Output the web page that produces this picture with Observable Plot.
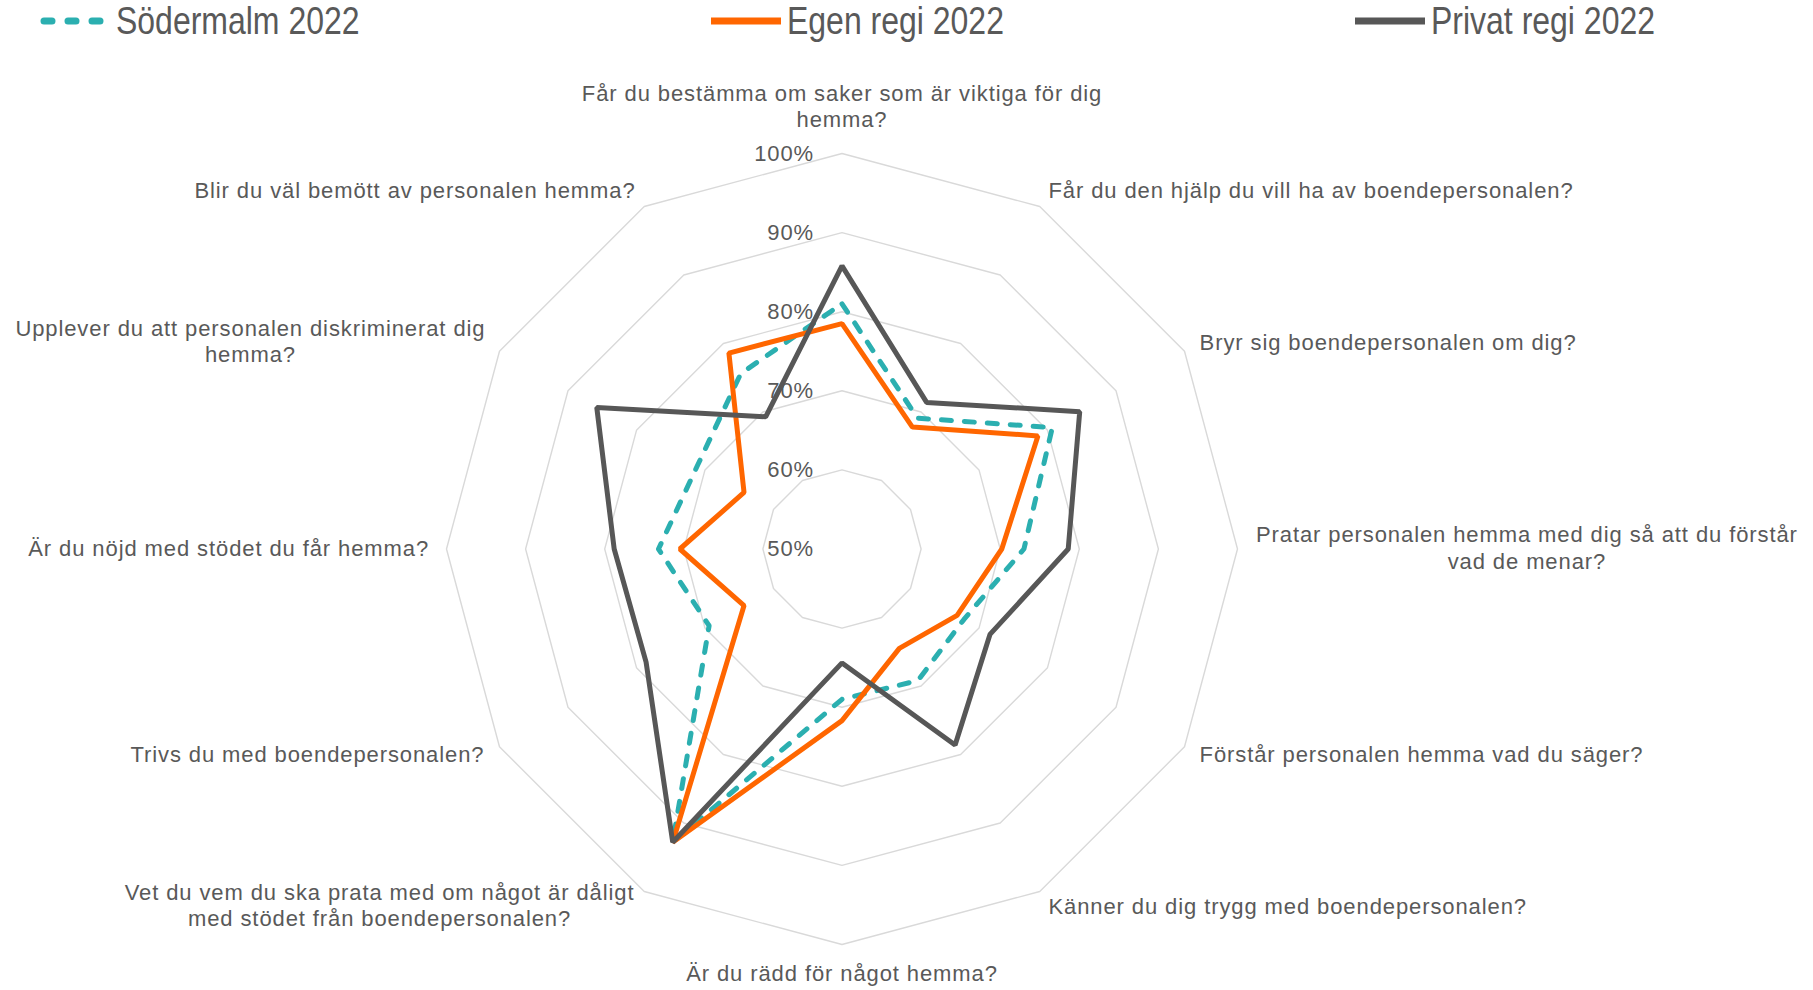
<!DOCTYPE html>
<html>
<head>
<meta charset="utf-8">
<script src="https://cdn.jsdelivr.net/npm/d3@7"></script>
<script src="https://cdn.jsdelivr.net/npm/@observablehq/plot@0.6"></script>
<style>
  body { margin: 0; background: #fff; font-family: "Liberation Sans", Arial, sans-serif; }
  #legend { position: relative; height: 42px; width: 1813px; }
  .item { position: absolute; top: 0; height: 42px; display: flex; align-items: center; }
  .item svg { display: block; }
  .item span { font-size: 39px; color: #595959; display: inline-block; transform: scaleX(0.82);
               transform-origin: left center; white-space: nowrap; margin-left: 6px; line-height: 42px; }
</style>
</head>
<body>
<div id="legend"></div>
<div id="chart"></div>
<script>
// ---- data ----
const categories = [
  "Får du bestämma om saker som är viktiga för dig\nhemma?",
  "Får du den hjälp du vill ha av boendepersonalen?",
  "Bryr sig boendepersonalen om dig?",
  "Pratar personalen hemma med dig så att du förstår\nvad de menar?",
  "Förstår personalen hemma vad du säger?",
  "Känner du dig trygg med boendepersonalen?",
  "Är du rädd för något hemma?",
  "Vet du vem du ska prata med om något är dåligt\nmed stödet från boendepersonalen?",
  "Trivs du med boendepersonalen?",
  "Är du nöjd med stödet du får hemma?",
  "Upplever du att personalen diskriminerat dig\nhemma?",
  "Blir du väl bemött av personalen hemma?"
];
const sodermalm2022 = [81.0, 69.1, 80.7, 73.0, 67.8, 69.2, 69.0, 92.8, 69.4, 73.2, 71.1, 75.6];
const egenRegi2022  = [78.5, 67.8, 78.6, 70.2, 66.8, 64.5, 71.7, 92.8, 64.3, 70.5, 64.3, 78.6];
const privatRegi2022 = [85.8, 71.4, 84.7, 78.6, 71.6, 78.6, 64.4, 92.8, 78.6, 78.8, 85.8, 69.3];
const seriesNames = ["Södermalm 2022", "Egen regi 2022", "Privat regi 2022"];
const tickValues = [50, 60, 70, 80, 90, 100];
const tickLabels = ["50%", "60%", "70%", "80%", "90%", "100%"];

// ---- styles / layout ----
const colors = ["#2BAFB0", "#FF6600", "#575757"];
const textColor = "#595959";
const W = 1813, H = 948, cx = 841.5, cy = 506.5, k = 7.91;
const base = 50, labelValue = 102.2;
const n = categories.length;
const ang = i => i * 2 * Math.PI / n;
const px = (v, i) => (v - base) * Math.sin(ang(i));
const py = (v, i) => (v - base) * Math.cos(ang(i));

// ---- legend ----
const legend = document.getElementById("legend");
const legendLeft = [40, 711, 1355];
seriesNames.forEach((name, s) => {
  const item = document.createElement("div");
  item.className = "item";
  item.style.left = legendLeft[s] + "px";
  const dashed = s === 0;
  item.innerHTML =
    `<svg width="70" height="42"><line x1="${dashed ? 4 : 0}" x2="${dashed ? 66 : 70}" y1="21" y2="21"
      stroke="${colors[s]}" stroke-width="7" stroke-linecap="${dashed ? "round" : "butt"}"
      ${dashed ? 'stroke-dasharray="8 16"' : ""}/></svg><span>${name}</span>`;
  legend.appendChild(item);
});

// ---- tables ----
const rings = [];
tickValues.slice(1).forEach(t => {
  for (let i = 0; i < n; i++) rings.push({ring: t, x: px(t, i), y: py(t, i)});
});
const seriesValues = [sodermalm2022, egenRegi2022, privatRegi2022];
const seriesRows = seriesValues.map(vals => vals.map((v, i) => ({i, v, x: px(v, i), y: py(v, i)})));
const labels = categories.map((c, i) => ({i, text: c, x: px(labelValue, i), y: py(labelValue, i),
  s: Math.sin(ang(i)), multi: c.includes("\n")}));

const txt = {fill: textColor, fontSize: 22, fontFamily: "Liberation Sans, Arial, sans-serif"};

const chart = Plot.plot({
  width: W, height: H, margin: 0,
  x: {domain: [-cx / k, (W - cx) / k], axis: null},
  y: {domain: [-(H - cy) / k, cy / k], axis: null},
  style: {background: "white", overflow: "visible", fontFamily: "Liberation Sans, Arial, sans-serif",
          letterSpacing: "0.9px"},
  marks: [
    Plot.line(rings, {x: "x", y: "y", z: "ring", curve: "linear-closed", stroke: "#D9D9D9", strokeWidth: 1.4}),
    Plot.text(tickValues, {x: () => 0, y: d => d - base, text: (d, j) => tickLabels[j],
      textAnchor: "end", lineAnchor: "middle", dx: -28, ...txt}),
    Plot.line(seriesRows[0], {x: "x", y: "y", curve: "linear-closed", stroke: colors[0], strokeWidth: 5,
      strokeDasharray: "10,13", strokeLinecap: "round", strokeLinejoin: "round"}),
    Plot.line(seriesRows[1], {x: "x", y: "y", curve: "linear-closed", stroke: colors[1], strokeWidth: 5,
      strokeLinejoin: "miter", strokeLinecap: "butt"}),
    Plot.line(seriesRows[2], {x: "x", y: "y", curve: "linear-closed", stroke: colors[2], strokeWidth: 5,
      strokeLinejoin: "miter", strokeLinecap: "butt"}),
    // single-line labels, right side
    Plot.text(labels.filter(d => !d.multi && d.s > 0.1), {x: "x", y: "y", text: "text",
      textAnchor: "start", lineAnchor: "middle", ...txt}),
    // single-line labels, left side
    Plot.text(labels.filter(d => !d.multi && d.s < -0.1), {x: "x", y: "y", text: "text",
      textAnchor: "end", lineAnchor: "middle", ...txt}),
    // bottom label
    Plot.text(labels.filter(d => !d.multi && Math.abs(d.s) <= 0.1), {x: "x", y: "y", text: "text",
      textAnchor: "middle", lineAnchor: "top", dy: 3, ...txt}),
    // top label
    Plot.text(labels.filter(d => d.multi && Math.abs(d.s) <= 0.1), {x: "x", y: "y", text: "text",
      textAnchor: "middle", lineAnchor: "bottom", lineHeight: 1.2, dy: -9, ...txt}),
    // two-line right label
    Plot.text(labels.filter(d => d.multi && d.i === 3), {x: "x", y: "y", text: "text",
      textAnchor: "middle", lineAnchor: "middle", lineHeight: 1.2, dx: 272, dy: -2, ...txt}),
    // two-line left labels
    Plot.text(labels.filter(d => d.multi && d.i === 10), {x: "x", y: "y", text: "text",
      textAnchor: "middle", lineAnchor: "middle", lineHeight: 1.2, dx: -234, dy: -2, ...txt}),
    Plot.text(labels.filter(d => d.multi && d.i === 7), {x: "x", y: "y", text: "text",
      textAnchor: "middle", lineAnchor: "middle", lineHeight: 1.2, dx: -256, dy: -2, ...txt})
  ]
});
document.getElementById("chart").appendChild(chart);
</script>
</body>
</html>
